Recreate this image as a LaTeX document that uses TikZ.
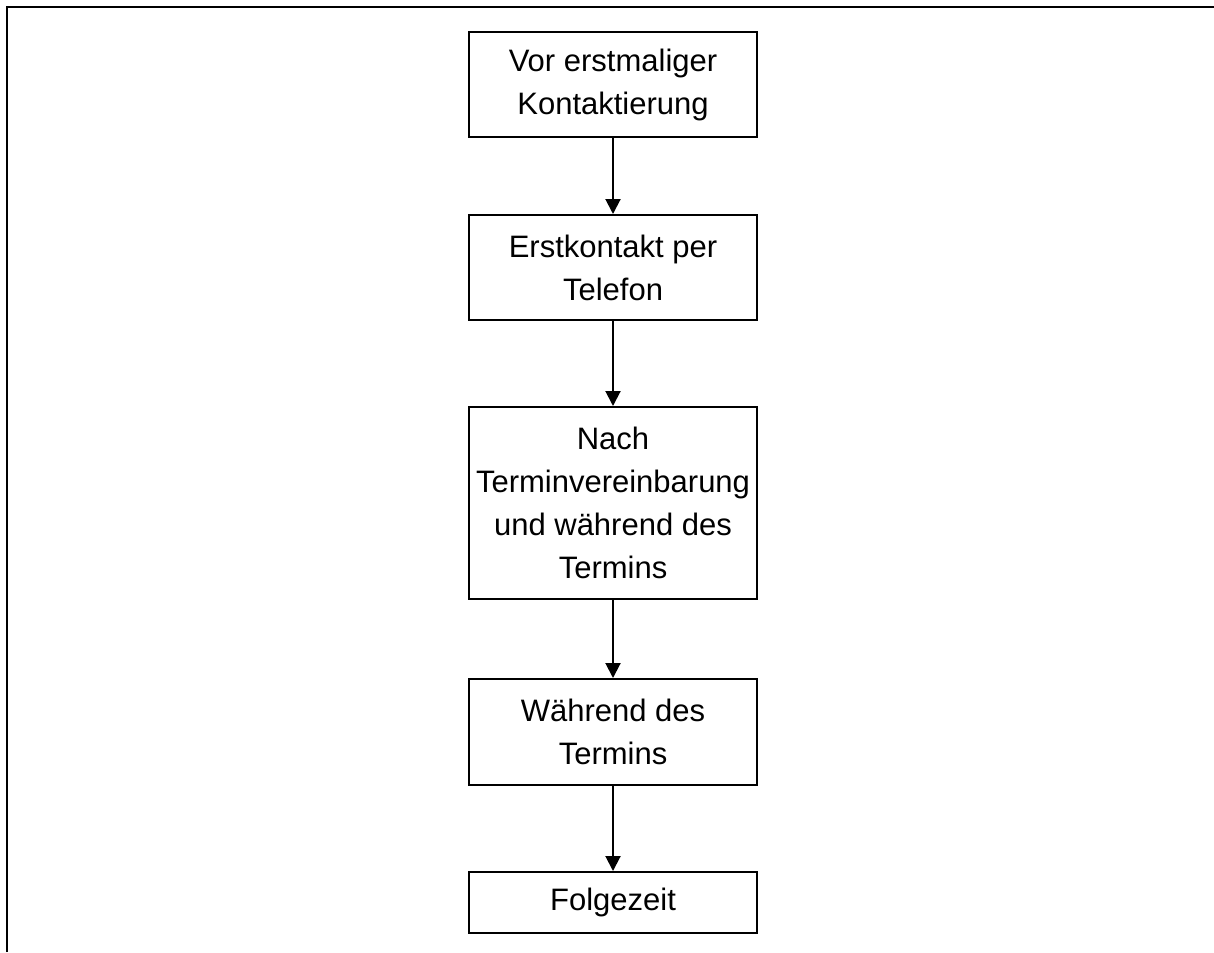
\documentclass[tikz,border=0pt]{standalone}
\usepackage{fontspec}
\setmainfont{Liberation Sans}
\usetikzlibrary{arrows.meta}
\begin{document}
\begin{tikzpicture}[x=1pt,y=-1pt,
  stepbox/.style={draw=black,line width=2pt,fill=white,minimum width=288pt,inner sep=0pt,align=center,font=\fontsize{31}{43}\selectfont},
  flow/.style={line width=2pt,-{Triangle[width=15pt,length=15pt]}}]
\useasboundingbox (0,0) rectangle (1214,952);
\coordinate (tl) at (7,7);
\coordinate (tr) at (1214,7);
\coordinate (bl) at (7,952);
\draw[line width=2pt] (bl) -- (tl) -- (tr);
\node[stepbox,minimum height=105pt] (a) at (613,84.5) {Vor erstmaliger\\Kontaktierung};
\node[stepbox,minimum height=105pt] (b) at (613,267.5) {Erstkontakt per\\Telefon};
\node[stepbox,minimum height=192pt] (c) at (613,503) {Nach\\Terminvereinbarung\\und während des\\Termins};
\node[stepbox,minimum height=106pt] (d) at (613,732) {Während des\\Termins};
\node[stepbox,minimum height=61pt] (e) at (613,902.5) {Folgezeit};
\draw[flow] (a) -- (b);
\draw[flow] (b) -- (c);
\draw[flow] (c) -- (d);
\draw[flow] (d) -- (e);
\end{tikzpicture}
\end{document}
